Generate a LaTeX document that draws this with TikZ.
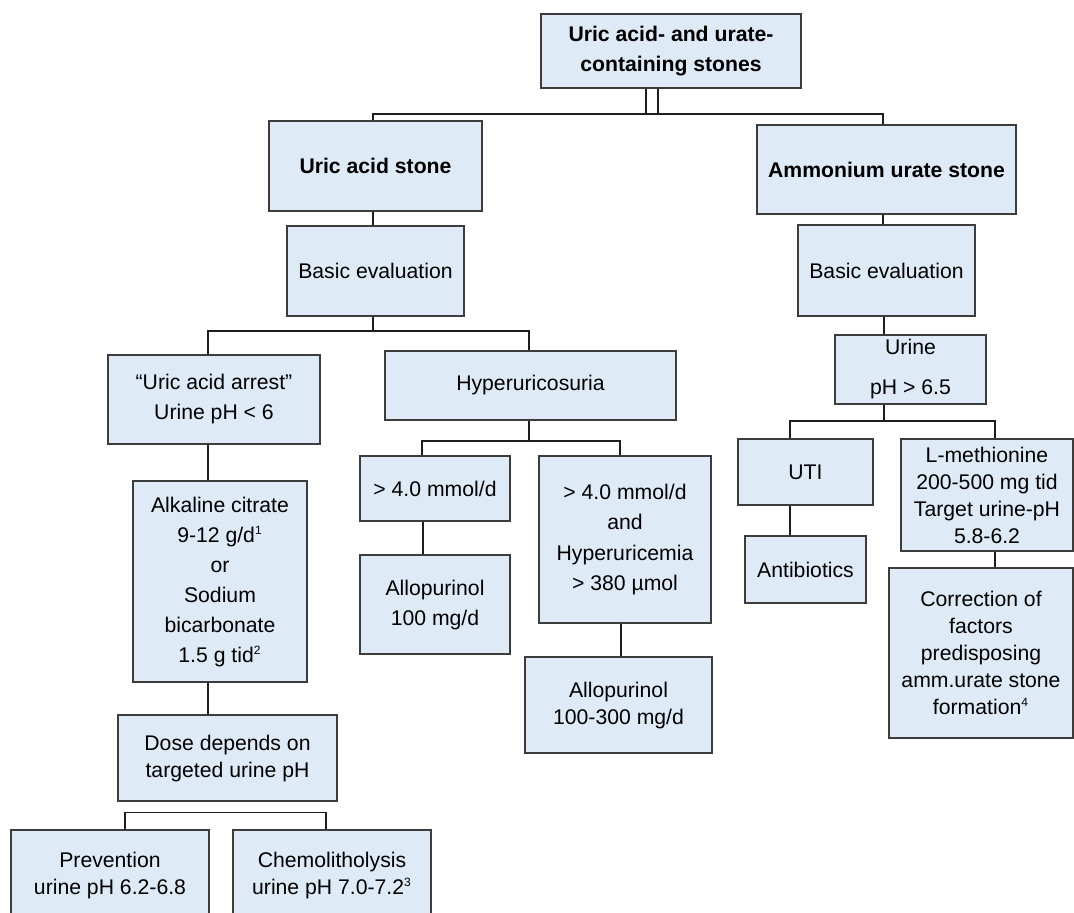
\documentclass[tikz,border=0pt]{standalone}
\usepackage{fontspec}
\setmainfont{Liberation Sans}
\usepackage{tikz}
\definecolor{boxfill}{RGB}{222,234,245}
\definecolor{boxline}{RGB}{60,60,60}
\definecolor{wire}{RGB}{30,30,30}
\newcommand{\fnote}[1]{\textsuperscript{\fontsize{6}{6}\selectfont #1}}
\tikzset{%
	box/.style = {name = #1, rectangle, draw = boxline, fill = boxfill, line width = 0.75pt, align = center, inner sep = 0pt, text = black, font = \fontsize{10.6}{13.5}\selectfont},
	sz/.style 2 args = {minimum width = #1*0.5pt, minimum height = #2*0.5pt},
	roomy/.style = {font = \fontsize{10.6}{15}\selectfont},
	head/.style = {font = \fontsize{10.6}{15}\selectfont\bfseries},
	link/.style = {draw = wire, line width = 0.75pt},
	every edge/.append style = {link}
}
\begin{document}
\begin{tikzpicture}[x = 0.5pt, y = -0.5pt]
	\useasboundingbox (0,0) rectangle (1074,912);
	\clip (0,0) rectangle (1074,912);
	\node [box = {top}, head, sz = {260}{74}] at (671,51) {Uric acid- and urate-\\containing stones};
	\node [box = {uas}, head, sz = {213}{90}] at (375.5,166) {Uric acid stone};
	\node [box = {amm}, head, sz = {259}{89}] at (886.5,169.5) {Ammonium urate stone};
	\node [box = {be1}, sz = {177}{90}] at (375.5,271) {Basic evaluation};
	\node [box = {be2}, sz = {177}{91}] at (886.5,270.5) {Basic evaluation};
	\node [box = {arrest}, roomy, sz = {212}{89}] at (214,399.5) {“Uric acid arrest”\\Urine pH < 6};
	\node [box = {hyper}, sz = {291}{69}] at (530.5,385.5) {Hyperuricosuria};
	\node [box = {mmol}, sz = {150}{65}] at (435,488.5) {> 4.0 mmol/d};
	\node [box = {allo1}, roomy, sz = {150}{99}] at (435,604.5) {Allopurinol\\100 mg/d};
	\node [box = {mmolhyp}, roomy, sz = {172}{167}] at (625,539.5) {> 4.0 mmol/d\\and\\Hyperuricemia\\> 380 µmol};
	\node [box = {allo2}, sz = {187}{96}] at (618.5,705) {Allopurinol\\100-300 mg/d};
	\node [box = {alk}, roomy, sz = {174}{201}] at (220,581.5) {Alkaline citrate\\9-12 g/d\fnote{1}\\or\\Sodium\\bicarbonate\\1.5 g tid\fnote{2}};
	\node [box = {dose}, sz = {219}{86}] at (227.5,758) {Dose depends on\\targeted urine pH};
	\node [box = {prev}, sz = {198}{90}] at (110,875) {Prevention\\urine pH 6.2-6.8};
	\node [box = {chemo}, sz = {198}{90}] at (332,875) {Chemolitholysis\\urine pH 7.0-7.2\fnote{3}};
	\node [box = {urine}, font = \fontsize{10.6}{20}\selectfont, sz = {151}{69}] at (910.5,369.5) {Urine\\pH > 6.5};
	\node [box = {uti}, sz = {135}{66}] at (805.5,472) {UTI};
	\node [box = {anti}, sz = {121}{67}] at (805.5,569.5) {Antibiotics};
	\node [box = {lmet}, sz = {172}{112}] at (987,495) {L-methionine\\200-500 mg tid\\Target urine-pH\\5.8-6.2};
	\node [box = {corr}, sz = {184}{170}] at (981,653) {Correction of\\factors\\predisposing\\amm.urate stone\\formation\fnote{4}};
	\coordinate (j0) at (652,114);
	\draw [link, double, double distance = 5.25pt] ([xshift=-9.5pt]top.south) -- ++(0,25);
	\draw [link] ([xshift=-1.25pt]uas.north) |- (j0) -| ([xshift=-1.75pt]amm.north);
	\path ([xshift=-1.25pt]uas.south) edge ([xshift=-1.25pt]be1.north);
	\draw [link] ([xshift=-1.25pt]be1.south) -- ++(0,14) coordinate (j1);
	\draw [link] ([xshift=-3pt]arrest.north) |- (j1) -| ([xshift=-0.75pt]hyper.north);
	\path ([xshift=-3pt]arrest.south) edge ([xshift=-6pt]alk.north);
	\path ([xshift=-6pt]alk.south) edge ([xshift=-9.75pt]dose.north);
	\draw [link] ([xshift=7.5pt]prev.north) -- ++(0,-17) -| ([xshift=-3pt]chemo.north);
	\draw [link] ([xshift=-0.75pt]hyper.south) -- ++(0,20) coordinate (j2);
	\draw [link] ([xshift=-6.5pt]mmol.north) |- (j2) -| ([xshift=-2.5pt]mmolhyp.north);
	\path ([xshift=-6pt]mmol.south) edge ([xshift=-6pt]allo1.north);
	\path ([xshift=-2pt]mmolhyp.south) edge ([xshift=1.25pt]allo2.north);
	\path ([xshift=-1.75pt]amm.south) edge ([xshift=-1.75pt]be2.north);
	\path ([xshift=-1.25pt]be2.south) edge ([xshift=-13.25pt]urine.north);
	\draw [link] ([xshift=-13.25pt]urine.south) -- ++(0,16) coordinate (j3);
	\draw [link] ([xshift=-7.75pt]uti.north) |- (j3) -| ([xshift=4pt]lmet.north);
	\path ([xshift=-7.75pt]uti.south) edge ([xshift=-7.75pt]anti.north);
	\path ([xshift=4pt]lmet.south) edge ([xshift=7pt]corr.north);
\end{tikzpicture}
\end{document}
